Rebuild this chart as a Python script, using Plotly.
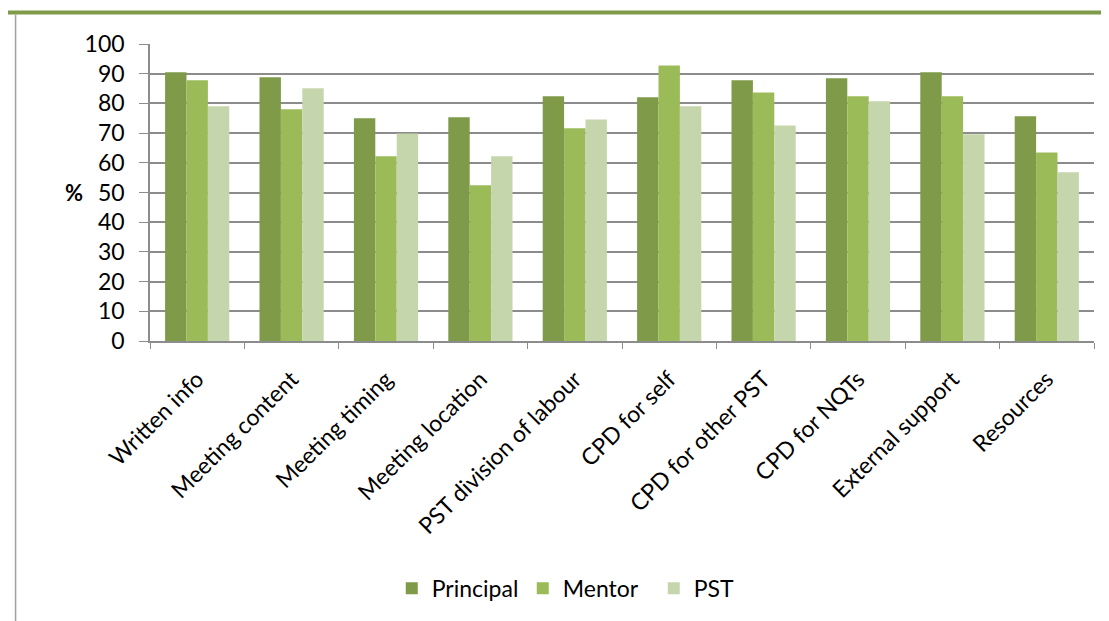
import plotly.graph_objects as go

categories = ["Written info", "Meeting content", "Meeting timing", "Meeting location",
              "PST division of labour", "CPD for self", "CPD for other PST",
              "CPD for NQTs", "External support", "Resources"]
principal = [90.5, 88.8, 75.0, 75.3, 82.4, 82.1, 87.8, 88.5, 90.5, 75.7]
mentor = [87.8, 78.0, 62.2, 52.4, 71.6, 92.8, 83.7, 82.4, 82.4, 63.5]
pst = [79.0, 85.1, 69.9, 62.2, 74.6, 79.0, 72.6, 80.7, 69.6, 56.8]
y_ticks = list(range(0, 101, 10))

FONT = "Lato"
GRID = "#8c8c8c"

# page body adds an 8px offset; work in screen pixels of the reference
OFF = 8
W, H = 1109 - OFF, 621 - OFF
left, right, top, bottom = 149.5, 1094, 43.6, 340.7  # plot area on screen
L, R, T, B = left - OFF, W - (right - OFF), top - OFF, H - (bottom - OFF)
pw, ph = W - L - R, H - T - B


def px_x(x):
    return (x - OFF - L) / pw


def px_y(y):
    return (H - B - (y - OFF)) / ph


fig = go.Figure()
for name, vals, color in [("Principal", principal, "#7f9a48"),
                          ("Mentor", mentor, "#9bbb59"),
                          ("PST", pst, "#c6d6ac")]:
    fig.add_trace(go.Bar(name=name, x=categories, y=vals,
                         marker=dict(color=color, line=dict(width=0))))

fig.update_layout(
    width=W, height=H,
    barmode="group",
    bargap=0.32,
    bargroupgap=0,
    plot_bgcolor="white",
    paper_bgcolor="white",
    font=dict(family=FONT, size=23, color="black"),
    margin=dict(l=L, r=R, t=T, b=B, autoexpand=False),
    showlegend=True,
    legend=dict(orientation="h", x=px_x(588), xanchor="center",
                y=px_y(588), yanchor="middle", entrywidth=86,
                font=dict(size=23), traceorder="normal"),
    xaxis=dict(tickangle=-45, showline=True, linecolor=GRID, linewidth=1.5,
               ticks="outside", ticklen=6, tickcolor=GRID, tickson="boundaries",
               showgrid=False, tickfont=dict(size=23), ticklabelstandoff=14),
    yaxis=dict(range=[0, 100], tickvals=y_ticks, showline=True, linecolor=GRID,
               linewidth=1.5, ticks="outside", ticklen=9, tickcolor=GRID,
               gridcolor=GRID, gridwidth=1.5, tickfont=dict(size=23),
               ticklabelstandoff=10, zeroline=False),
    shapes=[
        dict(type="line", xref="paper", yref="paper",
             x0=px_x(7), x1=px_x(1109), y0=px_y(12), y1=px_y(12),
             line=dict(color="#7f9a48", width=4)),
        dict(type="line", xref="paper", yref="paper",
             x0=px_x(15), x1=px_x(15), y0=px_y(14), y1=px_y(621),
             line=dict(color="#a0a0a0", width=1.5)),
    ],
    annotations=[
        dict(text="<b>%</b>", xref="paper", yref="y", x=px_x(62), y=50,
             showarrow=False, font=dict(size=22)),
    ],
)

fig.write_html("out.html")
